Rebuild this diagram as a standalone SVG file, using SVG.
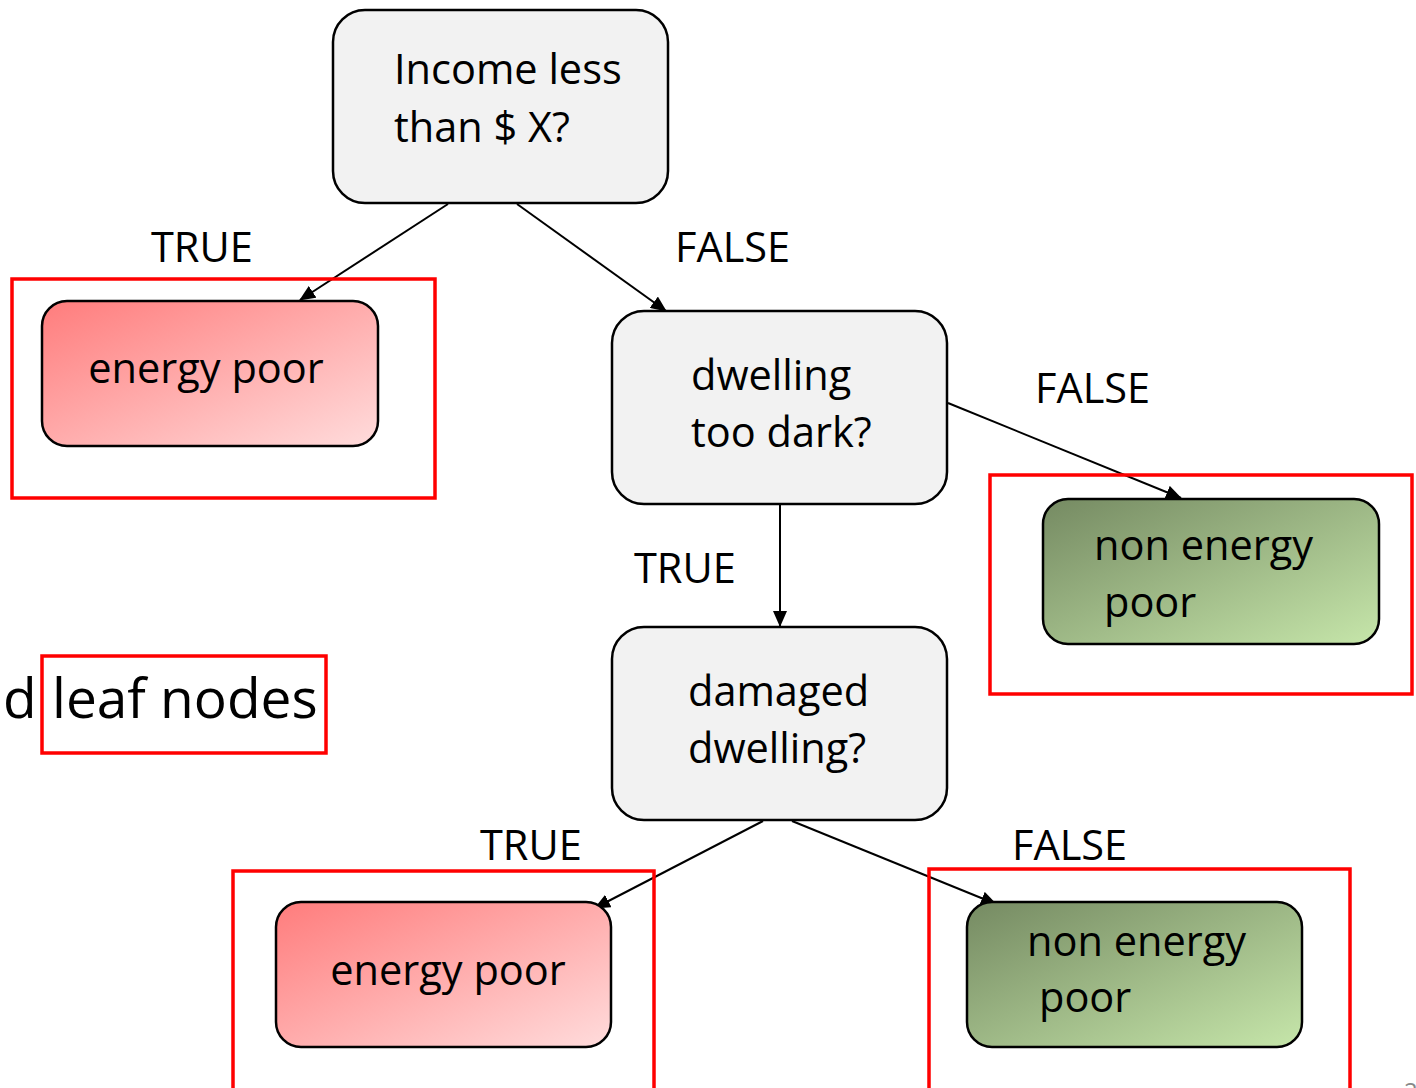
<svg xmlns="http://www.w3.org/2000/svg" width="1416" height="1088" viewBox="0 0 1416 1088">
<defs>
<style>
.t{font-family:"Open Sans","Liberation Sans",sans-serif;font-size:41.5px;fill:#000}
.q{fill:#f2f2f2;stroke:#000;stroke-width:2.5}
.leaf{stroke:#000;stroke-width:2.5}
.hl{fill:none;stroke:#ff0000;stroke-width:3.5}
.c{stroke:#000;stroke-width:2;fill:none;marker-end:url(#ah)}
</style>
<linearGradient id="gr" x1="0" y1="0" x2="1" y2="1">
<stop offset="0" stop-color="#ff7c7c"/>
<stop offset="1" stop-color="#ffdcdc"/>
</linearGradient>
<linearGradient id="gg" x1="0" y1="0" x2="1" y2="1">
<stop offset="0" stop-color="#758a62"/>
<stop offset="1" stop-color="#c6e6aa"/>
</linearGradient>
<marker id="ah" markerUnits="userSpaceOnUse" markerWidth="16" markerHeight="14" refX="15" refY="7" orient="auto">
<path d="M0,0 L16,7 L0,14 Z" fill="#000"/>
</marker>
</defs>
<rect width="1416" height="1088" fill="#fff"/>
<g id="connectors">
<line class="c" x1="448" y1="204" x2="300" y2="300"/>
<line class="c" x1="517" y1="204" x2="666" y2="311"/>
<line class="c" x1="948" y1="403" x2="1181" y2="498"/>
<line class="c" x1="780" y1="505" x2="780" y2="626"/>
<line class="c" x1="763" y1="821" x2="595" y2="908"/>
<line class="c" x1="792" y1="821" x2="996" y2="904"/>
</g>
<g id="labels">
<text class="t" x="151" y="262">TRUE</text>
<text class="t" x="675" y="262">FALSE</text>
<text class="t" x="1035" y="403">FALSE</text>
<text class="t" x="634" y="583">TRUE</text>
<text class="t" x="480" y="860">TRUE</text>
<text class="t" x="1012" y="860">FALSE</text>
</g>
<g id="n-income">
<rect class="q" x="333" y="10" width="335" height="193" rx="32"/>
<text class="t" x="394" y="84">Income less</text>
<text class="t" x="394" y="142">than $ X?</text>
</g>
<g id="n-poor1">
<rect class="leaf" x="42" y="301" width="336" height="145" rx="25" fill="url(#gr)"/>
<text class="t" x="206" y="383" text-anchor="middle">energy poor</text>
</g>
<g id="n-dark">
<rect class="q" x="612" y="311" width="335" height="193" rx="32"/>
<text class="t" x="691" y="390">dwelling</text>
<text class="t" x="691" y="447">too dark?</text>
</g>
<g id="n-nonpoor1">
<rect class="leaf" x="1043" y="499" width="336" height="145" rx="25" fill="url(#gg)"/>
<text class="t" x="1094" y="560">non energy</text>
<text class="t" x="1104" y="617">poor</text>
</g>
<g id="n-damaged">
<rect class="q" x="612" y="627" width="335" height="193" rx="32"/>
<text class="t" x="688" y="706">damaged</text>
<text class="t" x="688" y="763">dwelling?</text>
</g>
<g id="n-poor2">
<rect class="leaf" x="276" y="902" width="335" height="145" rx="25" fill="url(#gr)"/>
<text class="t" x="448" y="985" text-anchor="middle">energy poor</text>
</g>
<g id="n-nonpoor2">
<rect class="leaf" x="967" y="902" width="335" height="145" rx="25" fill="url(#gg)"/>
<text class="t" x="1027" y="956">non energy</text>
<text class="t" x="1039" y="1012">poor</text>
</g>
<g id="highlights">
<rect class="hl" x="12" y="279" width="423" height="219"/>
<rect class="hl" x="990" y="475" width="422" height="219"/>
<rect class="hl" x="233" y="871" width="421" height="230"/>
<rect class="hl" x="929" y="869" width="421" height="230"/>
<rect class="hl" x="42" y="656" width="284" height="97"/>
</g>
<g id="caption">
<text class="t" x="3" y="718" style="font-size:55px">d</text>
<text class="t" x="52" y="718" style="font-size:55px">leaf nodes</text>
<text class="t" x="1404" y="1100" style="font-size:24px;fill:#888">2</text>
</g>
</svg>
